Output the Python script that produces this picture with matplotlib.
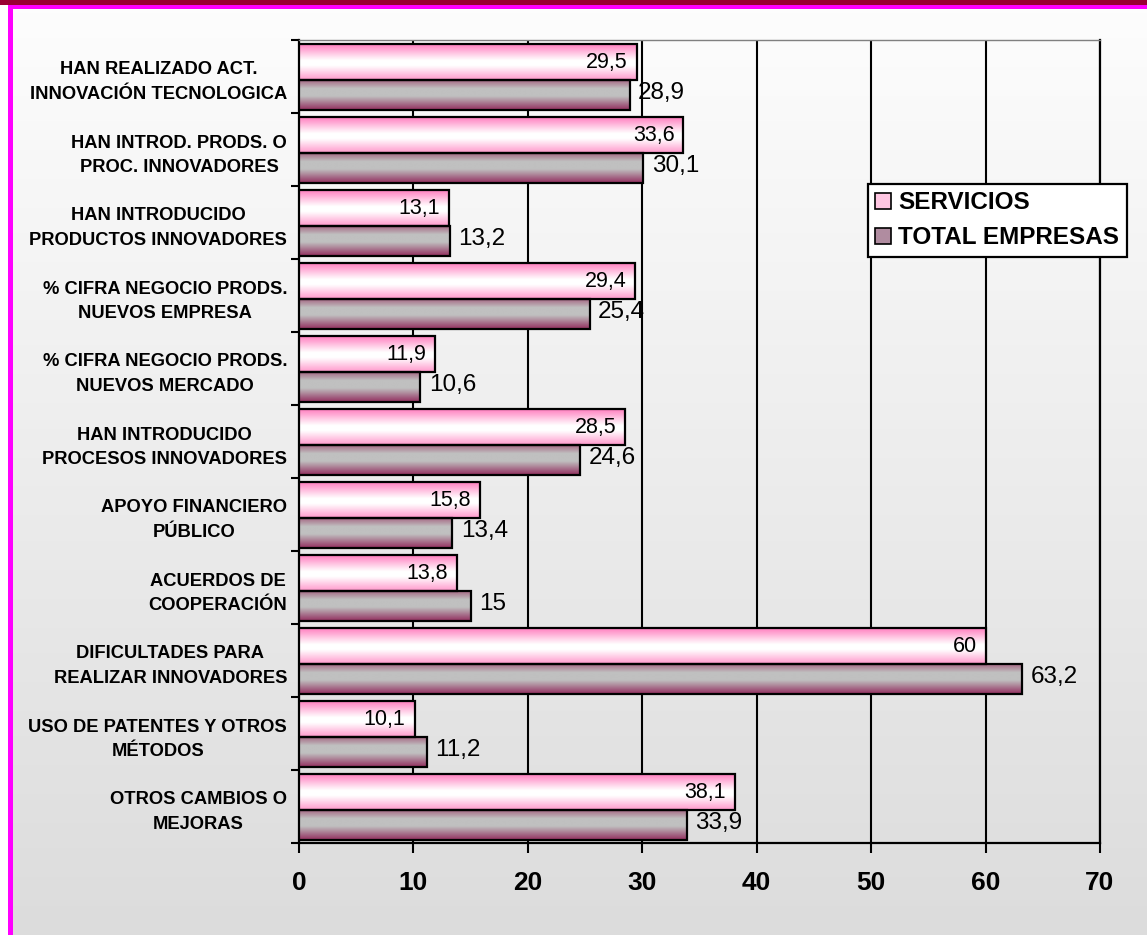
import numpy as np
import matplotlib
matplotlib.use("Agg")
import matplotlib.pyplot as plt
from matplotlib.colors import LinearSegmentedColormap, to_rgb
from matplotlib.patches import Patch, Rectangle

plt.rcParams['font.family'] = ['Liberation Sans', 'DejaVu Sans']

categories = [
    "HAN REALIZADO ACT.\nINNOVACIÓN TECNOLOGICA",
    "HAN INTROD. PRODS. O\nPROC. INNOVADORES",
    "HAN INTRODUCIDO\nPRODUCTOS INNOVADORES",
    "% CIFRA NEGOCIO PRODS.\nNUEVOS EMPRESA",
    "% CIFRA NEGOCIO PRODS.\nNUEVOS MERCADO",
    "HAN INTRODUCIDO\nPROCESOS INNOVADORES",
    "APOYO FINANCIERO\nPÚBLICO",
    "ACUERDOS DE\nCOOPERACIÓN",
    "DIFICULTADES PARA\nREALIZAR INNOVADORES",
    "USO DE PATENTES Y OTROS\nMÉTODOS",
    "OTROS CAMBIOS O\nMEJORAS",
]
servicios = [29.5, 33.6, 13.1, 29.4, 11.9, 28.5, 15.8, 13.8, 60, 10.1, 38.1]
total_empresas = [28.9, 30.1, 13.2, 25.4, 10.6, 24.6, 13.4, 15, 63.2, 11.2, 33.9]
series_names = ["SERVICIOS", "TOTAL EMPRESAS"]
x_ticks = [0, 10, 20, 30, 40, 50, 60, 70]

W, H = 1147, 935
fig = plt.figure(figsize=(W / 100, H / 100), dpi=100)
fig.patch.set_facecolor('white')

# background gradient
bg = fig.add_axes([13 / W, 0, 1 - 13 / W, 1 - 9 / H], zorder=-10)
bg.axis('off')
g = np.linspace(0, 1, 256)[:, None]
c0 = np.array(to_rgb('#FDFDFD')); c1 = np.array(to_rgb('#DCDCDC'))
img = (c0[None, None, :] * (1 - g[..., None]) + c1[None, None, :] * g[..., None])
bg.imshow(img, aspect='auto', extent=(0, 1, 0, 1), origin='upper')
bg.set_xlim(0, 1); bg.set_ylim(0, 1)

# frame decorations
fig.patches.append(Rectangle((0, 1 - 5 / H), 1, 5 / H, transform=fig.transFigure,
                             facecolor='#990033', edgecolor='none', zorder=5))
fig.patches.append(Rectangle((8 / W, 1 - 9 / H), 1, 4 / H, transform=fig.transFigure,
                             facecolor='#FF00FF', edgecolor='none', zorder=5))
fig.patches.append(Rectangle((8 / W, 0), 5 / W, 1 - 9 / H, transform=fig.transFigure,
                             facecolor='#FF00FF', edgecolor='none', zorder=5))

ax = fig.add_axes([299 / W, 1 - 843 / H, (1100 - 299) / W, (843 - 40) / H])
ax.set_facecolor('none')

pink_cmap = LinearSegmentedColormap.from_list(
    'pink', [(0, '#FF80C0'), (0.45, '#FFFFFF'), (0.6, '#FFFFFF'), (1, '#FF99CC')])
gray_cmap = LinearSegmentedColormap.from_list(
    'gray', [(0, '#A4607F'), (0.3, '#C0C0C0'), (0.55, '#C0C0C0'), (1, '#933060')])

n = len(categories)
pos = np.arange(n)
ph, gh = 0.488, 0.417
p_off = -0.44
g_off = p_off + ph

grad = np.linspace(0, 1, 64)[:, None]

bars_p = ax.barh(pos + p_off, servicios, height=ph, align='edge',
                 facecolor='none', edgecolor='black', linewidth=1.6, zorder=4)
bars_g = ax.barh(pos + g_off, total_empresas, height=gh, align='edge',
                 facecolor='none', edgecolor='black', linewidth=1.6, zorder=4)

for bars, cmap in ((bars_p, pink_cmap), (bars_g, gray_cmap)):
    for b in bars:
        x0, y0 = b.get_x(), b.get_y()
        w, h = b.get_width(), b.get_height()
        im = ax.imshow(grad, cmap=cmap, aspect='auto', origin='upper',
                       extent=(x0, x0 + w, y0 + h, y0), zorder=3,
                       interpolation='bilinear')
        im.set_clip_path(b)

def fmt(v):
    return f"{v:g}".replace('.', ',')

for b, v in zip(bars_p, servicios):
    ax.annotate(fmt(v), (b.get_x() + b.get_width(), b.get_y() + b.get_height() / 2),
                xytext=(-6.5, 0), textcoords='offset points', ha='right', va='center',
                fontsize=15.5, color='black', zorder=6)
for b, v in zip(bars_g, total_empresas):
    ax.annotate(fmt(v), (b.get_x() + b.get_width(), b.get_y() + b.get_height() / 2),
                xytext=(6, 1.5), textcoords='offset points', ha='left', va='center',
                fontsize=17.5, color='black', zorder=6)

ax.set_xlim(0, 70)
ax.set_ylim(n - 0.5, -0.5)
ax.set_xticks(x_ticks)
ax.set_xticklabels([str(t) for t in x_ticks], fontsize=19, fontweight='bold')
ax.tick_params(axis='x', length=7.5, width=1.5, pad=12.5, direction='out')
ax.set_yticks(pos)
ax.set_yticklabels(categories, fontsize=13.2, fontweight='bold', linespacing=1.6,
                   multialignment='center')
ax.tick_params(axis='y', which='major', length=0, pad=8.6)
ax.set_yticks(np.arange(n + 1) - 0.5, minor=True)
ax.tick_params(axis='y', which='minor', length=5.5, width=1.5, direction='out')

ax.xaxis.grid(True, color='black', linewidth=1.5, zorder=1)
ax.set_axisbelow(True)
for s in ('left', 'bottom', 'right'):
    ax.spines[s].set_color('black')
    ax.spines[s].set_linewidth(1.6)
ax.spines['top'].set_color('#808080')
ax.spines['top'].set_linewidth(1.0)

handles = [Patch(facecolor='#FFC6E2', edgecolor='black', linewidth=1.2),
           Patch(facecolor='#B08CA0', edgecolor='black', linewidth=1.2)]
leg = ax.legend(handles, series_names, loc='upper left',
                bbox_to_anchor=(868 / W, 1 - 184 / H), bbox_transform=fig.transFigure,
                borderaxespad=0, fancybox=False, shadow=False, framealpha=1,
                edgecolor='black', facecolor='white',
                prop={'size': 17.5, 'weight': 'bold'},
                handlelength=0.65, handleheight=0.65, handletextpad=0.3,
                labelspacing=0.5, borderpad=0.3)
leg.get_frame().set_linewidth(1.6)
leg.set_zorder(10)

fig.savefig('out.png', dpi=100)
